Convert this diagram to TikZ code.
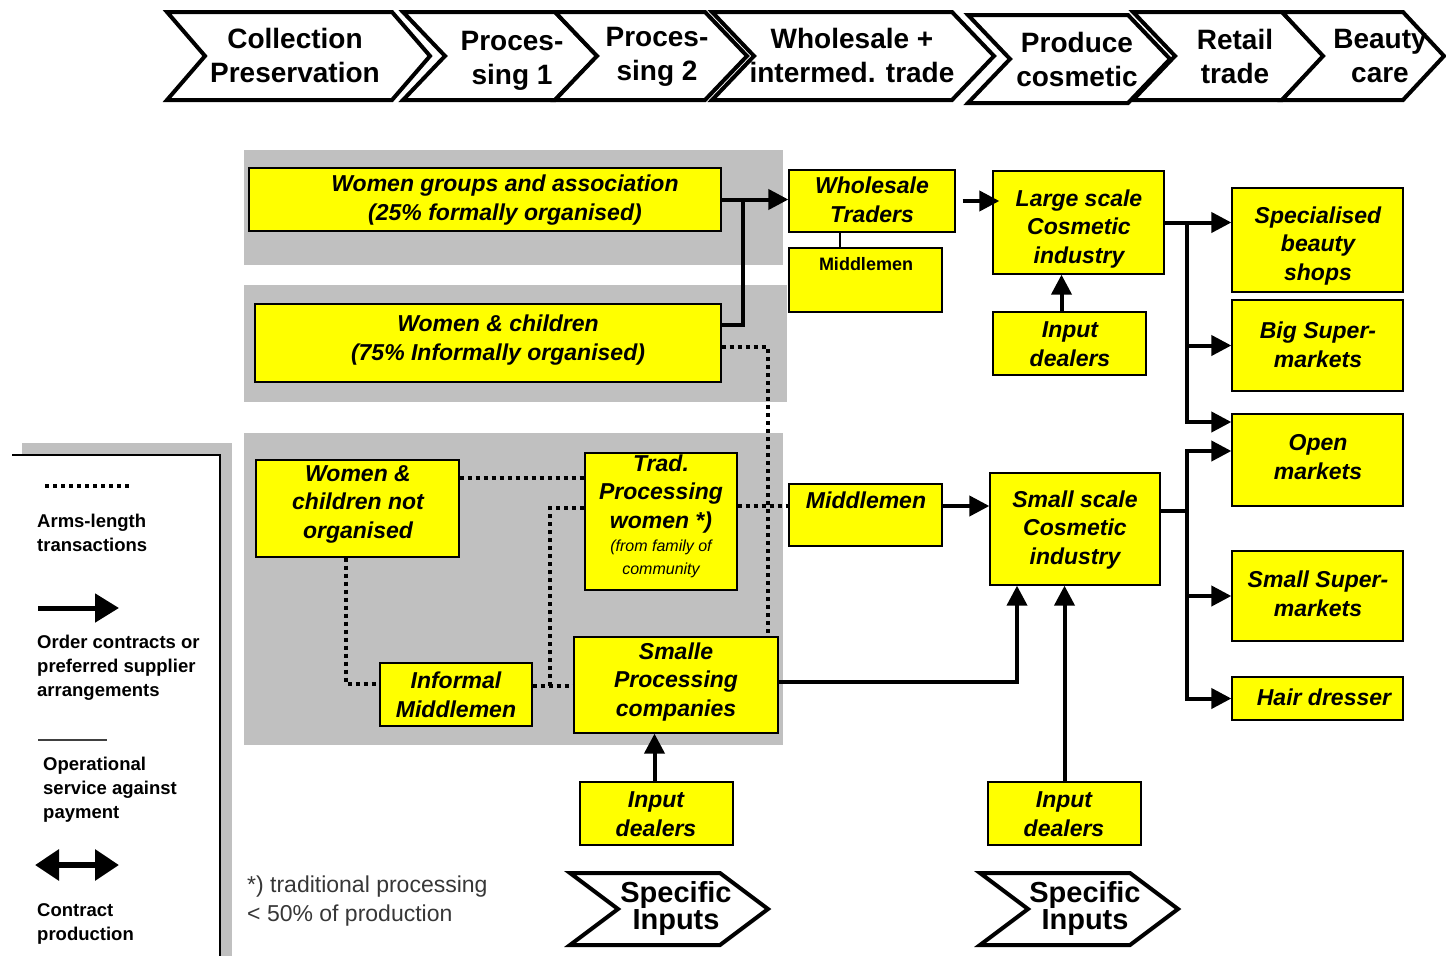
\documentclass[tikz,border=0pt]{standalone}
\usepackage{fontspec}
\setmainfont{Liberation Sans}
\usetikzlibrary{arrows.meta,calc}
\definecolor{band}{RGB}{192,192,192}
\definecolor{ylw}{RGB}{255,255,0}
\definecolor{note}{RGB}{55,55,55}
\newcommand\ybx[8]{%
  \node[ybox, minimum width={(#4-#2)*1pt}, minimum height={(#5-#3)*1pt}] (#1) at ({(#2+#4)/2},{(#3+#5)/2}) {};
  \node[ytxt] (#1t) at (#6,#7) {#8};}
\newcommand\chev[5]{%
  \draw[chevshape] (#1,#3) -- (#2,#3) -- ({#2+#5},{(#3+#4)/2}) -- (#2,#4) -- (#1,#4) -- ({#1+#5},{(#3+#4)/2}) -- cycle;}
\begin{document}
\begin{tikzpicture}[x=1pt,y=-1pt,
  ybox/.style={draw=black, fill=ylw, line width=1.3pt, inner sep=0pt},
  ytxt/.style={align=center, inner sep=0pt, font=\bfseries\itshape\fontsize{23}{28.5}\selectfont},
  hdr/.style={align=center, inner sep=0pt, font=\bfseries\fontsize{28}{34}\selectfont},
  spec/.style={align=center, inner sep=0pt, font=\bfseries\fontsize{29}{27}\selectfont},
  chevshape/.style={draw=black, fill=white, line width=4pt, line join=miter},
  arr/.style={line width=4pt, -{Triangle[length=20pt,width=20pt]}},
  sline/.style={line width=4pt},
  dline/.style={line width=4pt, dash pattern=on 4pt off 4pt},
  thinl/.style={line width=1.3pt},
  leg/.style={align=left, anchor=west, inner sep=0pt, font=\bfseries\fontsize{18.5}{24}\selectfont}
]
\useasboundingbox (0,0) rectangle (1446,956);
\fill[white] (0,0) rectangle (1446,956);

% header chevrons
\chev{167}{392}{12}{100}{38}
\chev{403}{555}{12}{100}{42}
\chev{555}{705}{12}{100}{42}
\chev{712}{952}{12}{100}{42}
\chev{968}{1128}{15}{103}{42}
\chev{1133}{1282}{12}{100}{42}
\chev{1282}{1403}{12}{100}{41}
\node[hdr] (h1) at (295,55) {Collection\\Preservation};
\node[hdr] (h2) at (512,61) {Proces-\\sing 1};
\node[hdr] (h3) at (657,57) {Proces-\\sing 2};
\node[hdr] (h4) at (852,55) {Wholesale +\\intermed. trade};
\node[hdr] (h5) at (1077,59) {Produce\\cosmetic};
\node[hdr] (h6) at (1235,56) {Retail\\trade};
\node[hdr] (h7) at (1380,56) {Beauty\\care};

% grey bands
\fill[band] (244,150) rectangle (783,265);
\fill[band] (244,285) rectangle (787,402);
\fill[band] (244,433) rectangle (783,745);

% legend
\fill[band] (22,443) rectangle (232,956);
\fill[white] (12,455) rectangle (220,956);
\draw[line width=2pt] (12,455) -- (220,455) -- (220,956);

% boxes
\ybx{wg}{249}{168}{721}{231}{505}{200}{Women groups and association\\(25\% formally organised)}
\ybx{wc}{255}{304}{721}{382}{498}{340}{Women \& children\\(75\% Informally organised)}
\ybx{wt}{789}{170}{955}{232}{872}{200}{Wholesale\\Traders}
\node[ybox, minimum width=153pt, minimum height=64pt] (mm1) at (865.5,280) {};
\node[inner sep=0pt, font=\bfseries\fontsize{18}{22}\selectfont] (mm1t) at (866,264) {Middlemen};
\ybx{lsc}{993}{171}{1164}{274}{1079}{229}{Large scale\\Cosmetic\\industry}
\ybx{id1}{993}{312}{1146}{375}{1070}{344}{Input\\dealers}
\ybx{wcn}{256}{460}{459}{557}{358}{504}{Women \&\\children not\\organised}
\ybx{tpw}{585}{453}{737}{590}{661}{494}{Trad.\\Processing\\women *)}
\node[align=center, inner sep=0pt, font=\itshape\fontsize{16}{23}\selectfont] (tpws) at (661,559) {(from family of\\community};
\ybx{mm2}{789}{484}{942}{546}{866}{500}{Middlemen}
\ybx{ssc}{990}{473}{1160}{585}{1075}{530}{Small scale\\Cosmetic\\industry}
\ybx{im}{380}{663}{532}{726}{456}{695}{Informal\\Middlemen}
\ybx{spc}{574}{637}{778}{733}{676}{682}{Smalle\\Processing\\companies}
\ybx{id2}{580}{782}{733}{845}{656}{814}{Input\\dealers}
\ybx{id3}{988}{782}{1141}{845}{1064}{814}{Input\\dealers}
\ybx{sbs}{1232}{188}{1403}{292}{1318}{246}{Specialised\\beauty\\shops}
\ybx{bsm}{1232}{300}{1403}{391}{1318}{345}{Big Super-\\markets}
\ybx{om}{1232}{414}{1403}{506}{1318}{457}{Open\\markets}
\ybx{ssm}{1232}{551}{1403}{641}{1318}{594}{Small Super-\\markets}
\ybx{hd}{1232}{677}{1403}{720}{1324}{697}{Hair dresser}

% specific inputs
\chev{570}{720}{873}{945}{48}
\chev{980}{1130}{873}{945}{48}
\node[spec] (si1) at (676,908) {Specific\\Inputs};
\node[spec] (si2) at (1085,908) {Specific\\Inputs};

% footnote
\node[anchor=west, align=left, inner sep=0pt, text=note, font=\fontsize{23}{29}\selectfont] (fn) at (247,901) {*) traditional processing\\< 50\% of production};

% solid connectors
\coordinate (j1) at (743,199.5);
\draw[arr] (wg.east) -- (wg.east -| wt.west);
\draw[sline] ([yshift=18]wc.east) -| (j1);
\draw[arr] ([xshift=7]wt.east) -- ([xshift=7]wt.east -| lsc.west);
\draw[thinl] ([xshift=-32]wt.south) -- ([xshift=-32]wt.south |- mm1.north);
\draw[arr] ([xshift=-8]id1.north) -- ([xshift=-8]id1.north |- lsc.south);
\coordinate (b1) at (1187,222.5);
\draw[sline] (lsc.east) -- (b1);
\draw[arr] (b1) -- (b1 -| sbs.west);
\draw[arr] (b1 |- bsm.west) -- (bsm.west);
\draw[arr] (b1) |- ([yshift=38]om.west);
\coordinate (b2) at (1187,511);
\draw[sline] ([yshift=18]ssc.east) -- (b2);
\draw[arr] (b2) |- ([yshift=9]om.west);
\draw[arr] (b2 |- ssm.west) -- (ssm.west);
\draw[arr] (b2) |- (hd.west);
\draw[arr] ([yshift=9]mm2.west -| mm2.east) -- ([yshift=9]mm2.west -| ssc.west);
\draw[arr] ([yshift=3]spc.east) -| ([xshift=-58]ssc.south);
\draw[arr] (id3.north) -- (id3.north |- ssc.south);
\draw[arr] ([xshift=-2]id2.north) -- ([xshift=-2]id2.north |- spc.south);

% dotted connectors
\draw[dline] ([yshift=-4]wc.east) -| ([xshift=-11]spc.north east);
\draw[dline] ([yshift=31]wcn.east) -- ([yshift=31]wcn.east -| tpw.west);
\draw[dline] ([yshift=9]mm2.west -| tpw.east) -- ([yshift=9]mm2.west);
\draw[dline] ([xshift=-12]wcn.south) |- ([yshift=11]im.west);
\coordinate (j2) at (550,685.5);
\draw[dline] ([yshift=9]im.east) -- ([yshift=9]im.east -| spc.west);
\draw[dline] (j2) |- ([yshift=14]tpw.west);

% legend content
\coordinate (l1a) at (45,486); \coordinate (l1b) at (130,486);
\draw[dline] (l1a) -- (l1b);
\node[leg] (lg1) at (37,533) {Arms-length\\transactions};
\coordinate (l2a) at (38,608); \coordinate (l2b) at (119,608);
\draw[line width=5pt, -{Triangle[length=24pt,width=28pt]}] (l2a) -- (l2b);
\node[leg] (lg2) at (37,668) {Order contracts or\\preferred supplier\\arrangements};
\coordinate (l3a) at (38,740); \coordinate (l3b) at (107,740);
\draw[line width=1.5pt, black!75] (l3a) -- (l3b);
\node[leg] (lg3) at (43,790) {Operational\\service against\\payment};
\coordinate (l4a) at (35,865); \coordinate (l4b) at (119,865);
\draw[line width=6pt, {Triangle[length=24pt,width=30pt]}-{Triangle[length=24pt,width=30pt]}] (l4a) -- (l4b);
\node[leg] (lg4) at (37,924) {Contract\\production};
\end{tikzpicture}
\end{document}
